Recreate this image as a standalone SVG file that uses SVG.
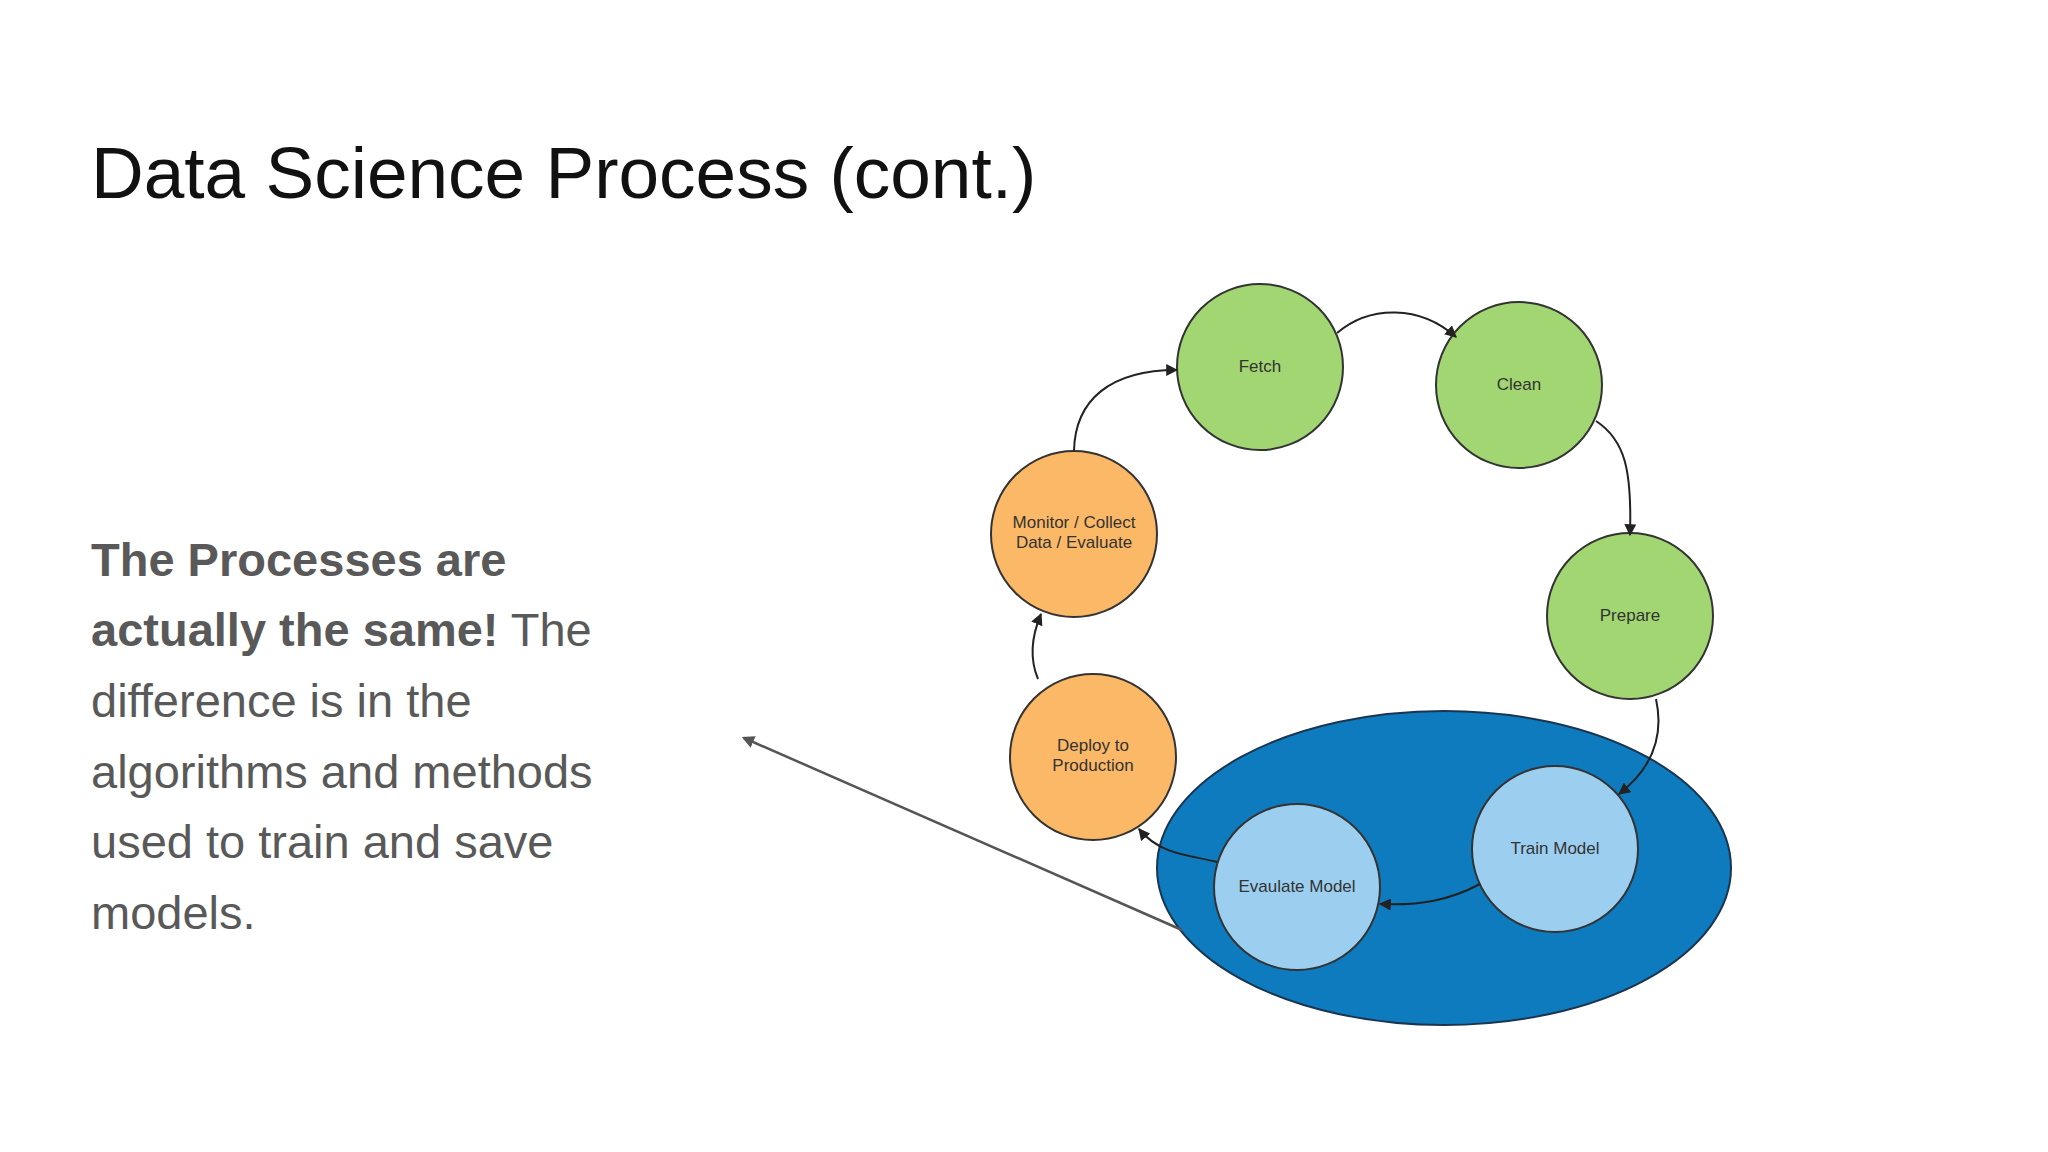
<svg xmlns="http://www.w3.org/2000/svg" width="2048" height="1152" viewBox="0 0 2048 1152">
<defs>
<style>
.n{stroke:#333;stroke-width:2}
.g{fill:#a1d672}.o{fill:#fbb867}.b{fill:#9ccfef}
.l{font-family:"Liberation Sans",Arial,sans-serif;font-size:17px;text-anchor:middle;fill:#333}
.c{fill:none;stroke:#222;stroke-width:2;marker-end:url(#a)}
.t{font-family:"Liberation Sans",Arial,sans-serif;font-size:47px;fill:#595959}
</style>
<marker id="a" viewBox="0 0 10 10" refX="9" refY="5" markerWidth="6" markerHeight="6" orient="auto"><path d="M0,0L10,5L0,10z" fill="#222"/></marker>
<marker id="a2" viewBox="0 0 10 10" refX="8" refY="5" markerWidth="5" markerHeight="5" orient="auto"><path d="M0,0L10,5L0,10z" fill="#555"/></marker>
</defs>
<rect width="2048" height="1152" fill="#fff"/>
<text x="91" y="198" font-family="Liberation Sans,Arial,sans-serif" font-size="73" fill="#111">Data Science Process (cont.)</text>
<g id="body" class="t">
<text x="91" y="576"><tspan font-weight="bold">The Processes are</tspan></text>
<text x="91" y="646"><tspan font-weight="bold">actually the same!</tspan> The</text>
<text x="91" y="717">difference is in the</text>
<text x="91" y="788">algorithms and methods</text>
<text x="91" y="858">used to train and save</text>
<text x="91" y="929">models.</text>
</g>
<g id="group"><ellipse cx="1444" cy="868" rx="287" ry="157" fill="#0f7bbf" stroke="#1a3550" stroke-width="2"/></g>
<g id="fetch"><circle class="n g" cx="1260" cy="367" r="83"/><text class="l" x="1260" y="372">Fetch</text></g>
<g id="clean"><circle class="n g" cx="1519" cy="385" r="83"/><text class="l" x="1519" y="390">Clean</text></g>
<g id="prepare"><circle class="n g" cx="1630" cy="616" r="83"/><text class="l" x="1630" y="621">Prepare</text></g>
<g id="train"><circle class="n b" cx="1555" cy="849" r="83"/><text class="l" x="1555" y="854">Train Model</text></g>
<g id="evaluate"><circle class="n b" cx="1297" cy="887" r="83"/><text class="l" x="1297" y="892">Evaulate Model</text></g>
<g id="deploy"><circle class="n o" cx="1093" cy="757" r="83"/><text class="l" x="1093" y="751">Deploy to</text><text class="l" x="1093" y="771">Production</text></g>
<g id="monitor"><circle class="n o" cx="1074" cy="534" r="83"/><text class="l" x="1074" y="528">Monitor / Collect</text><text class="l" x="1074" y="548">Data / Evaluate</text></g>
<g id="connectors">
<path class="c" d="M1337,333C1370,305 1420,305 1456,337"/>
<path class="c" d="M1596,421C1625,440 1632,470 1630,535"/>
<path class="c" d="M1656,699C1665,740 1650,770 1619,794"/>
<path class="c" d="M1480,884C1450,900 1420,906 1380,904"/>
<path class="c" d="M1217,862C1190,855 1160,855 1139,829"/>
<path class="c" d="M1038,679C1030,660 1030,640 1041,614"/>
<path class="c" d="M1074,451C1075,400 1110,370 1177,370"/>
<path d="M1182,930L744,738" fill="none" stroke="#555" stroke-width="2.5" marker-end="url(#a2)"/>
</g>
</svg>
